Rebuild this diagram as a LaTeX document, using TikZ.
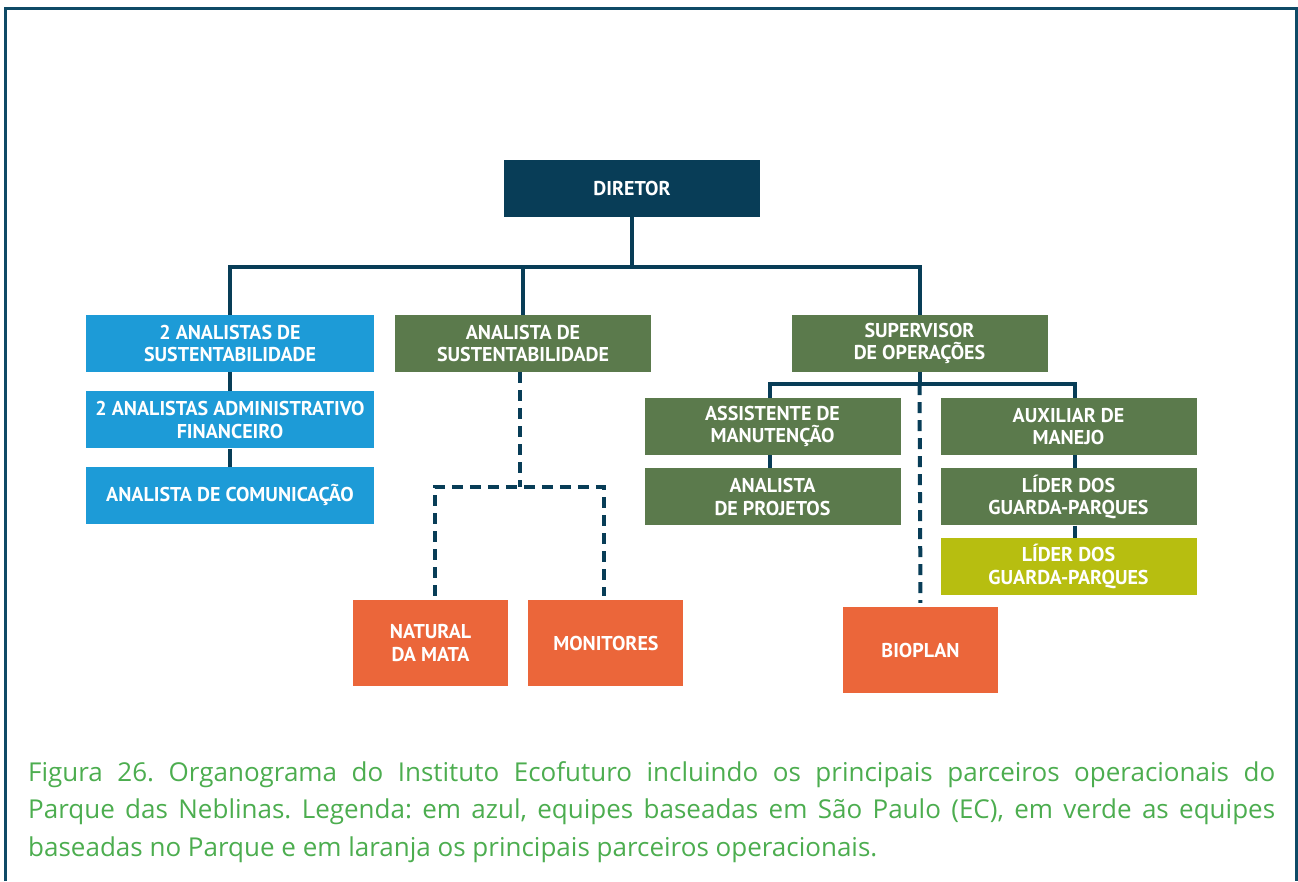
\documentclass[tikz,border=0pt]{standalone}
\usepackage{fontspec}
\setmainfont{Open Sans}
\newfontfamily\boxfont{PT Sans}
\usetikzlibrary{
  positioning,
  calc
}
\definecolor{ecNavy}{HTML}{083D57}
\definecolor{ecBlue}{HTML}{1D9BD7}
\definecolor{ecGreen}{HTML}{5B7A4C}
\definecolor{ecLime}{HTML}{B7BE10}
\definecolor{ecOrange}{HTML}{EB663A}
\definecolor{ecCaption}{HTML}{4CAD4F}
\definecolor{ecFrame}{HTML}{0F4A66}
\tikzset{
  ecnode/.style={
    rectangle, minimum height=57pt, inner sep=2pt, align=center,
    text=white, font=\boxfont\bfseries\fontsize{20}{22.5}\selectfont
  },
  director/.style={ecnode, fill=ecNavy, minimum width=256pt},
  sede/.style={ecnode, fill=ecBlue, minimum width=288pt},
  parque/.style={ecnode, fill=ecGreen, minimum width=256pt},
  guarda/.style={ecnode, fill=ecLime, minimum width=256pt},
  parceiro/.style={ecnode, fill=ecOrange, minimum width=155pt, minimum height=86pt},
  link/.style={line width=4pt, ecNavy},
  dashlink/.style={line width=4pt, ecNavy, dash pattern=on 11pt off 7pt},
  legenda/.style={
    text width=1247pt, align=justify, inner sep=0pt, text=ecCaption,
    font=\frenchspacing\fontsize{26}{37.5}\selectfont
  }
}
\begin{document}
\begin{tikzpicture}[x=1pt, y=-1pt, node distance=19pt]
  \useasboundingbox (0,0) rectangle (1298,881);
  \draw[ecFrame, line width=3pt] (5,881) -- (5,8) -- (1296,8) -- (1296,881);
  % top and first row
  \node[director] (dir) at (632,188.5) {DIRETOR};
  \node[sede] (sede1) at (230,343.5) {2 ANALISTAS DE\\SUSTENTABILIDADE};
  \node[sede, below=of sede1] (sede2) {2 ANALISTAS ADMINISTRATIVO\\FINANCEIRO};
  \node[sede, below=18pt of sede2] (sede3) {ANALISTA DE COMUNICAÇÃO};
  \node[parque] (anasus) at (523,343.5) {ANALISTA DE\\SUSTENTABILIDADE};
  \node[parque] (superv) at (919.5,343.5) {SUPERVISOR\\DE OPERAÇÕES};
  % operations
  \node[parque] (assist) at (772.5,426.5) {ASSISTENTE DE\\MANUTENÇÃO};
  \node[parque, below=13pt of assist] (projet) {ANALISTA\\DE PROJETOS};
  \node[parque] (auxil) at (1068.5,426.5) {AUXILIAR DE\\MANEJO};
  \node[parque, below=13pt of auxil] (lider1) {LÍDER DOS\\GUARDA-PARQUES};
  \node[guarda, below=12pt of lider1] (lider2) {LÍDER DOS\\GUARDA-PARQUES};
  % partners
  \node[parceiro] (natural) at (430.5,643) {NATURAL\\DA MATA};
  \node[parceiro, right=20pt of natural] (monit) {MONITORES};
  \node[parceiro] (biopl) at (920.5,650) {BIOPLAN};
  % solid links
  \coordinate (bus) at (632,267);
  \draw[link] (dir.south) -- (bus);
  \draw[link] (sede1.north) |- (bus) -| (superv.north);
  \draw[link] (anasus.north) -- (anasus.north |- bus);
  \draw[link] (sede1.south) -- (sede2.north) (sede2.south) -- (sede3.north);
  \coordinate (bus2) at ($(superv.south)+(0,12)$);
  \draw[link] (superv.south) -- (bus2);
  \draw[link] ($(assist.north)+(-3,0)$) |- (bus2) -| ($(auxil.north)+(6,0)$);
  \draw[link] ($(assist.south)+(-3,0)$) -- ($(projet.north)+(-3,0)$);
  \draw[link] ($(auxil.south)+(6,0)$) -- ($(lider1.north)+(6,0)$)
    ($(lider1.south)+(6,0)$) -- ($(lider2.north)+(6,0)$);
  % partner links
  \coordinate (split) at ($(anasus.south)+(-3,115)$);
  \draw[dashlink] ($(anasus.south)+(-3,0)$) -- (split);
  \draw[dashlink, shorten <=4pt, shorten >=4pt] ($(natural.north)+(4,0)$) |- (split) -| ($(monit.north)+(-2,0)$);
  \draw[dashlink, shorten >=4pt] (bus2) -- (biopl.north);
  % caption
  \node[legenda, anchor=north west] (cap) at (28,761) {%
    Figura 26. Organograma do Instituto Ecofuturo incluindo os principais parceiros operacionais do\linebreak
    Parque das Neblinas. Legenda: em azul, equipes baseadas em São Paulo (EC), em verde as equipes\linebreak
    baseadas no Parque e em laranja os principais parceiros operacionais.};
\end{tikzpicture}
\end{document}
